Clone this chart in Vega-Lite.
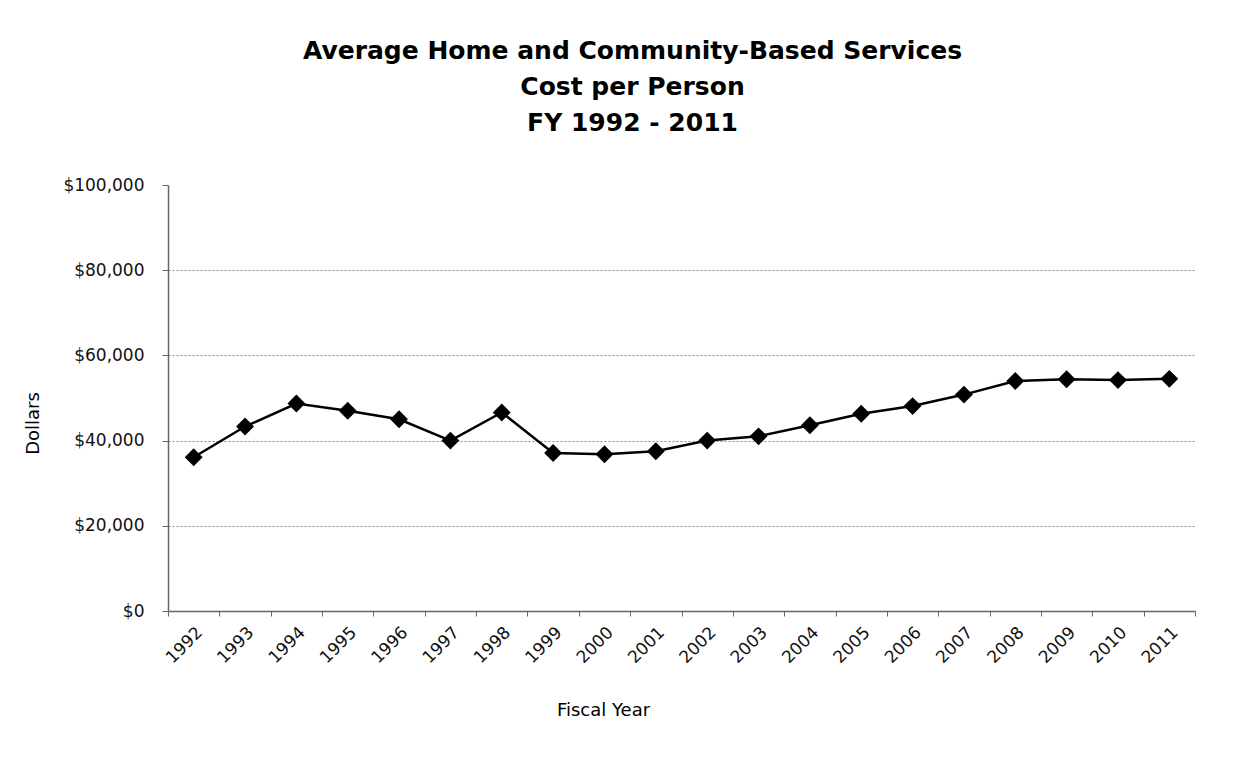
{
  "$schema": "https://vega.github.io/schema/vega-lite/v6.json",
  "width": 1027,
  "height": 426,
  "autosize": {"type": "none"},
  "padding": {"left": 168, "top": 185, "right": 55, "bottom": 169},
  "background": "white",
  "title": {
    "text": ["Average Home and Community-Based  Services", "Cost per Person", "FY 1992 - 2011"],
    "font": "DejaVu Sans",
    "fontSize": 25,
    "fontWeight": "bold",
    "color": "#000000",
    "lineHeight": 36,
    "anchor": "middle",
    "frame": "group",
    "dx": -49,
    "offset": 40
  },
  "config": {"view": {"stroke": null}, "font": "DejaVu Sans"},
  "data": {
    "values": [
      {"year": "1992", "cost": 36100},
      {"year": "1993", "cost": 43300},
      {"year": "1994", "cost": 48700},
      {"year": "1995", "cost": 47000},
      {"year": "1996", "cost": 45000},
      {"year": "1997", "cost": 40000},
      {"year": "1998", "cost": 46600},
      {"year": "1999", "cost": 37100},
      {"year": "2000", "cost": 36800},
      {"year": "2001", "cost": 37500},
      {"year": "2002", "cost": 40000},
      {"year": "2003", "cost": 41000},
      {"year": "2004", "cost": 43600},
      {"year": "2005", "cost": 46300},
      {"year": "2006", "cost": 48100},
      {"year": "2007", "cost": 50800},
      {"year": "2008", "cost": 54000},
      {"year": "2009", "cost": 54400},
      {"year": "2010", "cost": 54200},
      {"year": "2011", "cost": 54500}
    ]
  },
  "encoding": {
    "x": {
      "field": "year",
      "type": "ordinal",
      "sort": null,
      "scale": {"type": "band", "paddingInner": 0, "paddingOuter": 0},
      "axis": {
        "title": "Fiscal Year",
        "titleFont": "DejaVu Sans",
        "titleFontSize": 18,
        "titleFontWeight": "normal",
        "titleColor": "#000000",
        "titleX": 435,
        "titleY": 99,
        "titleAlign": "center",
        "titleBaseline": "middle",
        "labelAngle": -45,
        "labelFontSize": 17,
        "labelColor": "#111111",
        "labelPadding": 8,
        "tickBand": "extent",
        "tickSize": 5,
        "tickColor": "#666666",
        "domainColor": "#666666",
        "domainWidth": 1.5,
        "grid": false
      }
    },
    "y": {
      "field": "cost",
      "type": "quantitative",
      "scale": {"domain": [0, 100000], "nice": false, "zero": true},
      "axis": {
        "title": "Dollars",
        "titleFont": "DejaVu Sans",
        "titleFontSize": 18,
        "titleFontWeight": "normal",
        "titleColor": "#000000",
        "titleX": -135,
        "titleY": 238,
        "titleAngle": -90,
        "titleAlign": "center",
        "titleBaseline": "middle",
        "values": [0, 20000, 40000, 60000, 80000, 100000],
        "format": "$,.0f",
        "labelFontSize": 17,
        "labelColor": "#111111",
        "labelPadding": 18,
        "tickSize": 6,
        "tickColor": "#666666",
        "domainColor": "#666666",
        "domainWidth": 1.5,
        "grid": true,
        "gridColor": "#888888",
        "gridDash": [2, 2],
        "gridWidth": 1,
        "gridOpacity": {"condition": {"test": "datum.value == 0 || datum.value == 100000", "value": 0}, "value": 1}
      }
    }
  },
  "layer": [
    {"mark": {"type": "line", "color": "#000000", "strokeWidth": 2.5}},
    {"mark": {"type": "point", "shape": "diamond", "filled": true, "color": "#000000", "size": 320, "opacity": 1}}
  ]
}
